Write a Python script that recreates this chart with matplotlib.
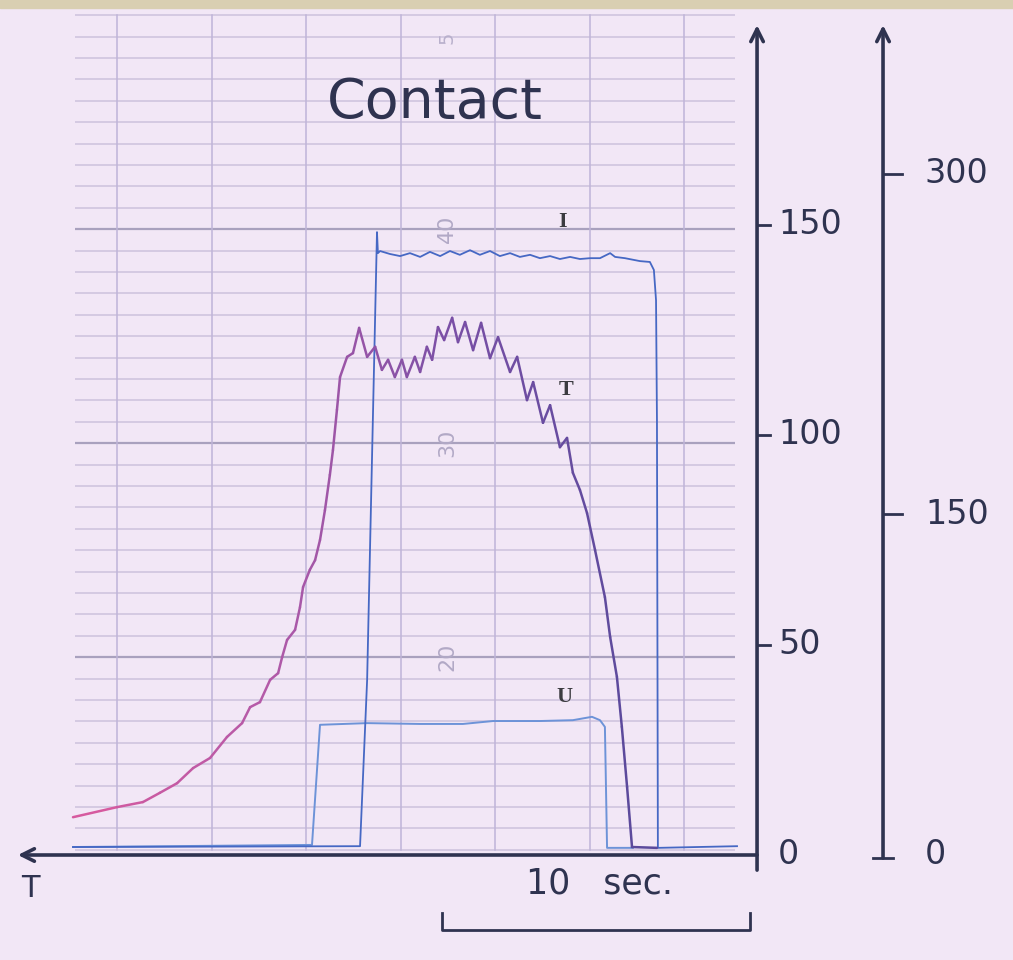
import matplotlib
matplotlib.use("Agg")
from matplotlib import pyplot as plt
from matplotlib.collections import LineCollection
from matplotlib.colors import LinearSegmentedColormap
import numpy as np

# temperature trace T (time in s, value in left-axis units)
t_time = [0.00, 1.43, 2.27, 2.82, 3.38, 3.90, 4.45, 5.00, 5.49, 5.75, 6.07, 6.40, 6.66,
          6.79, 6.95, 7.21, 7.37, 7.47, 7.69, 7.86, 8.02, 8.18, 8.34, 8.44, 8.57, 8.67,
          8.90, 9.09, 9.29, 9.55, 9.81, 10.03, 10.23, 10.45, 10.68, 10.84, 11.10, 11.27,
          11.49, 11.66, 11.85, 12.05, 12.31, 12.50, 12.73, 12.99, 13.25, 13.54, 13.80,
          14.19, 14.42, 14.74, 14.94, 15.26, 15.49, 15.81, 16.04, 16.23, 16.46, 16.69,
          16.95, 17.27, 17.44, 17.66, 17.82, 17.99, 18.15, 18.96]
t_vals = [9.0, 11.4, 12.6, 14.8, 17.1, 20.7, 23.1, 28.1, 31.4, 35.2, 36.4, 41.7, 43.3,
          47.1, 51.2, 53.6, 59.0, 63.8, 67.9, 70.2, 75.0, 82.1, 90.5, 96.4, 106.0, 113.8,
          118.6, 119.5, 125.5, 118.6, 121.0, 115.5, 117.9, 113.8, 117.9, 113.8, 118.6, 115.0,
          121.0, 117.9, 125.7, 122.6, 127.9, 122.1, 126.9, 120.2, 126.7, 118.3, 123.3,
          115.0, 118.6, 108.3, 112.6, 102.9, 107.1, 97.1, 99.3, 91.0, 86.9, 81.4,
          72.6, 61.4, 51.9, 42.4, 30.5, 16.2, 1.9, 1.7]

# current trace I
i_time = [0.00, 9.32, 9.55, 9.87, 9.90, 9.97, 10.29, 10.62, 10.94, 11.27, 11.59, 11.92,
          12.24, 12.56, 12.89, 13.21, 13.54, 13.86, 14.19, 14.51, 14.84, 15.16, 15.49,
          15.81, 16.14, 16.46, 16.79, 17.11, 17.44, 17.60, 17.92, 18.41, 18.73, 18.86,
          18.93, 18.96, 18.99, 21.56]
i_vals = [1.9, 2.1, 41.7, 148.3, 143.3, 143.8, 143.1, 142.6, 143.3, 142.4, 143.6, 142.6,
          143.8, 142.9, 144.0, 142.9, 143.8, 142.6, 143.3, 142.4, 142.9, 142.1, 142.6,
          141.9, 142.4, 141.9, 142.1, 142.1, 143.3, 142.4, 142.1, 141.4, 141.2, 139.3,
          132.1, 103.6, 1.7, 2.1]

# voltage trace U
u_time = [0.00, 7.76, 8.02, 9.55, 11.27, 12.66, 13.64, 15.16, 16.23, 16.85, 17.11, 17.27,
          17.34, 18.18]
u_vals = [1.9, 2.4, 31.0, 31.4, 31.2, 31.2, 31.9, 31.9, 32.1, 32.9, 32.1, 30.5, 1.7, 1.7]

left_ticks = [0, 50, 100, 150]
right_ticks = [0, 150, 300]
right_scale = 0.5405      # right-axis unit in left-axis units
paper_labels = ["20", "30", "40"]

bg = "#f2e7f6"
ink = "#2f3350"

fig = plt.figure(figsize=(10.13, 9.6), dpi=100, facecolor=bg)
ax = fig.add_axes([0, 0, 1, 1])
ax.set_facecolor(bg)
ax.set_xlim(-2.37, 30.52)
ax.set_ylim(-25.0, 203.57)
ax.axis("off")

# scan edge at top
ax.axhspan(201.7, 203.57, color="#d9cfb2", zorder=0)

# chart paper
grid_step = 5.095
base = 47.1
for k in range(-9, 31):
    v = base + k * grid_step
    dark = (k % 10 == 0) and k < 30
    ax.plot([0.06, 21.5], [v, v], color="#a9a1be" if dark else "#d2c7e0",
            lw=1.6 if dark else 1.3, zorder=1, solid_capstyle="butt")
for k in range(7):
    tx = 1.43 + 3.07 * k
    ax.plot([tx, tx], [1.2, 200.0], color="#bfb4d8", lw=1.1, zorder=1)
for i, lab in enumerate(paper_labels):
    ax.text(12.14, base + 10 * grid_step * i, lab, rotation=90, ha="center", va="center",
            fontsize=16, color="#b2a9c6", zorder=2)
ax.text(12.14, 194.5, "5", rotation=90, ha="center", va="center",
        fontsize=14, color="#b9b0cc", zorder=2)

# traces
ax.plot(u_time, u_vals, color="#6d93d8", lw=1.4, zorder=3)
ax.plot(i_time, i_vals, color="#4668c4", lw=1.3, zorder=4)
pts = np.column_stack([t_time, t_vals])
segs = np.stack([pts[:-1], pts[1:]], axis=1)
cmap = LinearSegmentedColormap.from_list("tt", ["#d65a9f", "#b45aa8", "#7a4fa6", "#5b4a9c"])
lc = LineCollection(segs, cmap=cmap, lw=1.8, zorder=5, capstyle="round", joinstyle="round")
lc.set_array(np.array(t_time[:-1]))
ax.add_collection(lc)

serif = ["Liberation Serif", "DejaVu Serif"]
for lab, tx, ty in [("I", 15.91, 150.7), ("T", 16.0, 110.7), ("U", 15.97, 37.6)]:
    ax.text(tx, ty, lab, family=serif, fontweight="bold", fontsize=16, color="#3b3b40",
            ha="center", va="center")

ax.text(11.75, 179.0, "Contact", fontsize=40, color=ink, ha="center", va="center")

# axes drawn like the original sketch
t_ax = 22.21
t_rax = 26.3
arrow = dict(arrowstyle="->,head_length=0.9,head_width=0.45", color=ink, lw=2.6,
             shrinkA=0, shrinkB=0)
ax.annotate("", xy=(-1.79, 0), xytext=(t_ax, 0), arrowprops=arrow)
ax.annotate("", xy=(t_ax, 197.6), xytext=(t_ax, -3.6), arrowprops=arrow)
ax.annotate("", xy=(t_rax, 197.6), xytext=(t_rax, -0.7), arrowprops=arrow)

for val in left_ticks[1:]:
    ax.plot([t_ax, t_ax + 0.42], [val, val], color=ink, lw=2)
for val in left_ticks:
    ax.text(t_ax + 0.68, val, str(val), fontsize=24, color=ink, ha="left", va="center")

for val in right_ticks[1:]:
    ax.plot([t_rax, t_rax + 0.6], [val * right_scale] * 2, color=ink, lw=2)
ax.plot([t_rax - 0.33, t_rax + 0.33], [-0.7, -0.7], color=ink, lw=2)
for val in right_ticks:
    ax.text(27.66, val * right_scale, str(val), fontsize=24, color=ink, ha="left", va="center")

ax.text(-1.40, -7.9, "T", fontsize=22, color=ink, ha="center", va="center")

# 10 s scale bar
ax.plot([11.98, 11.98, 21.98, 21.98], [-13.8, -17.9, -17.9, -13.8], color=ink, lw=2)
ax.text(17.1, -6.9, "10   sec.", fontsize=25, color=ink, ha="center", va="center")

fig.savefig("out.png", dpi=100, facecolor=bg)
